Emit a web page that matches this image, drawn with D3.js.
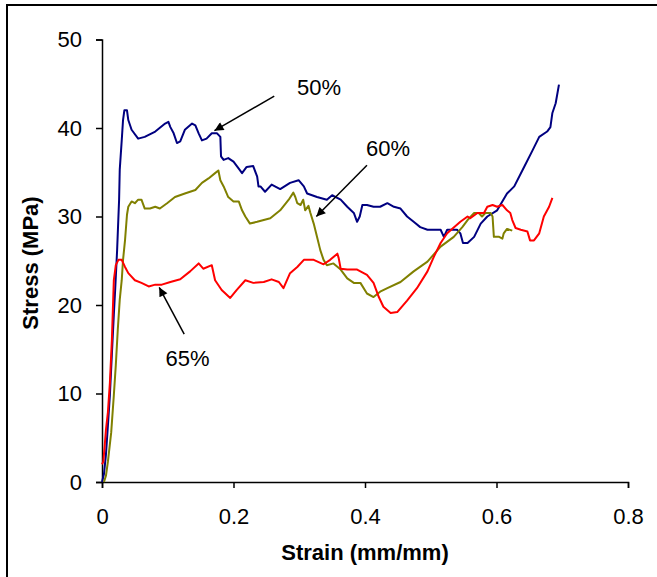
<!DOCTYPE html>
<html>
<head>
<meta charset="utf-8">
<script src="https://cdn.jsdelivr.net/npm/d3@7"></script>
<style>
  html, body { margin: 0; padding: 0; background: #fff; }
  svg { display: block; }
  text { font-family: "Liberation Sans", Arial, sans-serif; }
</style>
</head>
<body>
<svg id="chart" width="657" height="577"></svg>
<script>
// ---- data (strain mm/mm, stress MPa) ----
const xTicks = [0, 0.2, 0.4, 0.6, 0.8];
const yTicks = [0, 10, 20, 30, 40, 50];
const xTitle = "Strain (mm/mm)";
const yTitle = "Stress (MPa)";

const series50 = [
  [0.000,0.0],[0.003,0.9],[0.006,3.1],[0.009,6.4],[0.012,9.8],[0.015,14.4],[0.018,18.9],[0.020,21.7],
  [0.023,26.2],[0.026,31.9],[0.027,35.3],[0.030,38.6],[0.032,40.9],[0.034,42.0],[0.038,42.0],[0.040,40.9],
  [0.045,39.8],[0.055,38.8],[0.065,39.0],[0.081,39.6],[0.096,40.5],[0.101,40.7],[0.104,40.1],[0.109,39.4],
  [0.114,38.3],[0.119,38.5],[0.126,39.8],[0.137,40.5],[0.142,40.3],[0.147,39.4],[0.152,38.6],[0.159,38.8],
  [0.167,39.4],[0.175,39.4],[0.180,39.0],[0.181,36.8],[0.185,36.4],[0.192,36.6],[0.200,36.2],[0.208,35.4],
  [0.213,34.9],[0.220,35.6],[0.230,35.7],[0.236,34.5],[0.238,33.4],[0.241,33.4],[0.248,32.8],[0.258,33.6],
  [0.271,33.1],[0.286,33.8],[0.299,34.1],[0.307,33.4],[0.312,32.6],[0.327,32.2],[0.342,31.9],[0.350,32.4],
  [0.363,31.9],[0.373,31.1],[0.383,30.4],[0.388,29.4],[0.392,30.0],[0.396,31.3],[0.403,31.3],[0.413,31.1],
  [0.423,31.1],[0.434,31.5],[0.444,31.1],[0.454,30.9],[0.464,30.0],[0.474,29.4],[0.484,28.8],[0.495,28.5],
  [0.505,28.5],[0.515,28.5],[0.520,27.7],[0.525,28.5],[0.540,28.5],[0.545,28.1],[0.549,27.0],[0.556,27.0],
  [0.566,27.7],[0.576,29.2],[0.586,30.0],[0.601,30.7],[0.616,32.6],[0.627,33.4],[0.642,35.6],[0.655,37.5],
  [0.665,39.0],[0.677,39.6],[0.682,40.1],[0.685,41.7],[0.690,42.8],[0.695,44.9]
];

const series60 = [
  [0.003,0.0],[0.006,0.7],[0.009,2.3],[0.014,5.6],[0.018,9.8],[0.021,13.2],[0.024,17.2],[0.027,20.6],
  [0.030,22.8],[0.032,25.1],[0.035,27.3],[0.038,30.2],[0.040,31.1],[0.045,31.7],[0.050,31.5],[0.055,31.9],
  [0.060,31.9],[0.065,30.9],[0.073,30.9],[0.081,31.1],[0.088,30.9],[0.099,31.5],[0.111,32.2],[0.126,32.6],
  [0.142,33.0],[0.152,33.8],[0.162,34.3],[0.172,34.9],[0.177,35.2],[0.180,34.1],[0.185,33.4],[0.192,32.2],
  [0.200,31.7],[0.208,31.7],[0.213,30.7],[0.218,30.0],[0.225,29.2],[0.236,29.4],[0.256,29.8],[0.271,30.7],
  [0.284,31.9],[0.291,32.7],[0.294,32.2],[0.297,31.5],[0.302,31.3],[0.306,31.9],[0.309,30.7],[0.314,31.2],
  [0.317,30.4],[0.322,29.2],[0.327,27.7],[0.332,26.2],[0.337,25.1],[0.342,24.5],[0.352,24.7],[0.363,24.0],
  [0.373,23.0],[0.383,22.5],[0.393,22.5],[0.403,21.3],[0.413,20.9],[0.423,21.5],[0.434,21.9],[0.454,22.6],
  [0.474,23.8],[0.495,24.9],[0.515,26.6],[0.535,27.7],[0.548,28.8],[0.556,29.6],[0.566,30.4],[0.573,30.4],
  [0.578,30.0],[0.583,30.4],[0.591,30.4],[0.594,30.0],[0.596,27.7],[0.604,27.7],[0.609,27.5],[0.611,28.1],
  [0.616,28.6],[0.624,28.4]
];

const series65 = [
  [0.000,2.0],[0.002,2.3],[0.004,4.0],[0.006,5.9],[0.009,7.9],[0.012,11.2],[0.015,16.0],[0.017,20.6],
  [0.018,22.8],[0.021,24.5],[0.025,25.1],[0.030,25.1],[0.035,24.3],[0.040,23.6],[0.050,22.8],[0.060,22.5],
  [0.071,22.1],[0.081,22.3],[0.091,22.3],[0.104,22.6],[0.119,22.9],[0.134,23.8],[0.147,24.7],[0.154,24.1],
  [0.167,24.5],[0.172,22.8],[0.182,21.7],[0.195,20.8],[0.205,21.7],[0.218,22.8],[0.230,22.5],[0.246,22.6],
  [0.258,22.9],[0.269,22.6],[0.276,21.9],[0.286,23.6],[0.297,24.3],[0.307,25.1],[0.322,25.1],[0.337,24.6],
  [0.347,25.1],[0.358,25.8],[0.360,25.3],[0.363,24.1],[0.373,24.0],[0.388,24.0],[0.403,23.4],[0.413,22.5],
  [0.421,20.9],[0.428,19.8],[0.439,19.1],[0.449,19.2],[0.464,20.5],[0.479,21.9],[0.495,23.8],[0.505,25.5],
  [0.515,27.0],[0.525,28.1],[0.545,29.4],[0.556,30.0],[0.560,29.8],[0.571,30.4],[0.581,30.4],[0.586,31.1],
  [0.594,31.3],[0.601,31.1],[0.609,31.3],[0.616,30.7],[0.621,30.4],[0.624,29.6],[0.629,28.7],[0.637,28.5],
  [0.647,28.3],[0.651,27.3],[0.657,27.3],[0.665,28.1],[0.672,30.0],[0.680,31.1],[0.685,32.1]
];

const seriesNames = ["50%", "60%", "65%"];
const seriesColors = ["#000080", "#808000", "#ff0000"];

// annotation labels: text anchor (strain, stress), arrow start, arrow tip
const labelText = ["50%", "60%", "65%"];
const labelPos = [[0.330, 43.7], [0.435, 36.8], [0.130, 13.1]];
const arrowFrom = [[0.262, 43.6], [0.403, 35.8], [0.125, 16.7]];
const arrowTo = [[0.171, 39.7], [0.326, 30.0], [0.087, 22.0]];

// ---- drawing ----
const svg = d3.select("#chart");
const x = d3.scaleLinear().domain([0, 0.8]).range([102, 628]);
const y = d3.scaleLinear().domain([0, 50]).range([482, 39.5]);

// frame (only left and top edges visible)
svg.append("rect").attr("x", 7).attr("y", 5).attr("width", 800).attr("height", 800)
  .attr("fill", "none").attr("stroke", "#000").attr("stroke-width", 2);

const fmtX = d => d === 0 ? "0" : d3.format(".1f")(d);

const xAxis = svg.append("g").attr("transform", `translate(0,${y(0)})`)
  .call(d3.axisBottom(x).tickValues(xTicks).tickFormat(fmtX).tickSizeOuter(0).tickSize(6).tickPadding(20));
const yAxis = svg.append("g").attr("transform", `translate(${x(0)},0)`)
  .call(d3.axisLeft(y).tickValues(yTicks).tickSizeOuter(0).tickSize(6).tickPadding(14));

[xAxis, yAxis].forEach(g => {
  g.select(".domain").attr("stroke", "#000").attr("stroke-width", 1.5);
  g.selectAll(".tick line").attr("stroke", "#000").attr("stroke-width", 1.5);
  g.selectAll(".tick text").attr("font-size", 22).attr("fill", "#000")
    .attr("font-family", "'Liberation Sans', Arial, sans-serif");
});

// axis titles
svg.append("text").attr("x", 365).attr("y", 560).attr("text-anchor", "middle")
  .attr("font-size", 22).attr("font-weight", "bold").text(xTitle);
svg.append("text").attr("transform", "translate(38,263) rotate(-90)").attr("text-anchor", "middle")
  .attr("font-size", 22).attr("font-weight", "bold").text(yTitle);

// curves
const line = d3.line().x(d => x(d[0])).y(d => y(d[1]));
[series50, series60, series65].forEach((s, i) => {
  svg.append("path").datum(s).attr("d", line).attr("fill", "none")
    .attr("stroke", seriesColors[i]).attr("stroke-width", 2).attr("stroke-linejoin", "round");
});

// arrow marker
svg.append("defs").append("marker").attr("id", "arrow")
  .attr("viewBox", "0 0 10 10").attr("refX", 10).attr("refY", 5)
  .attr("markerWidth", 11).attr("markerHeight", 9).attr("markerUnits", "userSpaceOnUse")
  .attr("orient", "auto")
  .append("path").attr("d", "M0,0 L10,5 L0,10 Z").attr("fill", "#000");

labelText.forEach((t, i) => {
  svg.append("line")
    .attr("x1", x(arrowFrom[i][0])).attr("y1", y(arrowFrom[i][1]))
    .attr("x2", x(arrowTo[i][0])).attr("y2", y(arrowTo[i][1]))
    .attr("stroke", "#000").attr("stroke-width", 1.5).attr("marker-end", "url(#arrow)");
  svg.append("text").attr("x", x(labelPos[i][0])).attr("y", y(labelPos[i][1]))
    .attr("text-anchor", "middle").attr("font-size", 22).attr("fill", "#000").text(t);
});
</script>
</body>
</html>
